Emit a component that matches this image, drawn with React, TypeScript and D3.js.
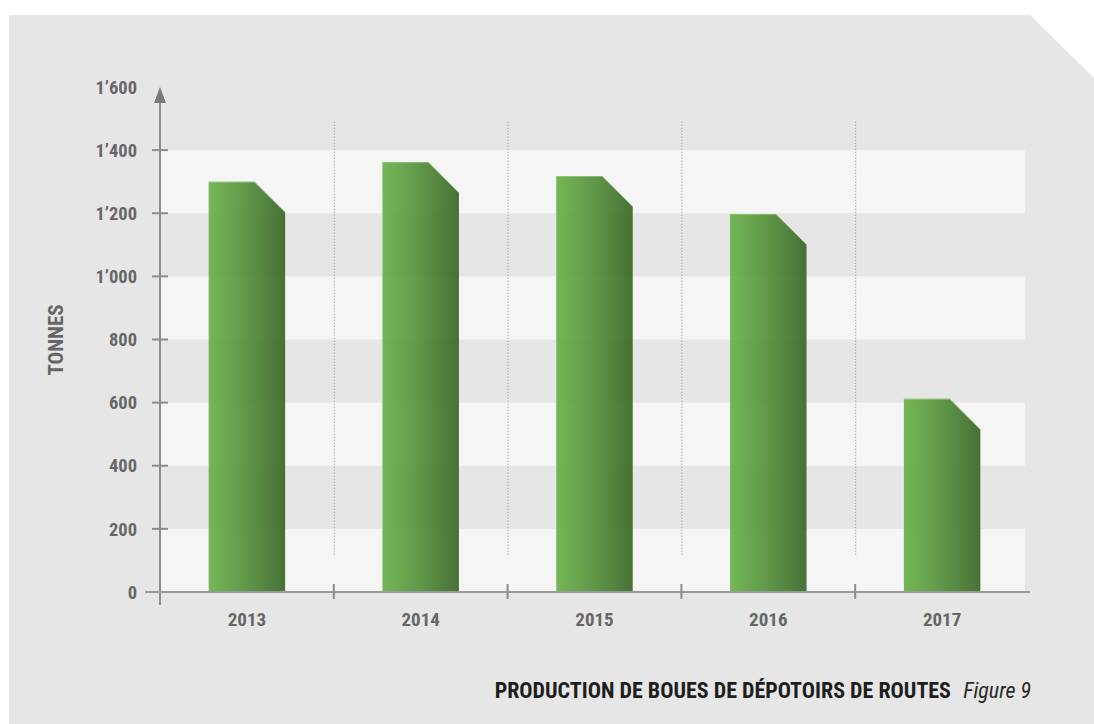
import * as d3 from "d3";

const years = ["2013", "2014", "2015", "2016", "2017"];
const tonnes = [1300, 1362, 1318, 1198, 612];
const yTicks = [0, 200, 400, 600, 800, 1000, 1200, 1400, 1600];
const yTickLabels = ["0", "200", "400", "600", "800", "1’000", "1’200", "1’400", "1’600"];
const yTitle = "TONNES";
const chartTitle = "PRODUCTION DE BOUES DE DÉPOTOIRS DE ROUTES";
const figureLabel = "Figure 9";

const W = 1094;
const H = 724;
const condensed = "'Roboto Condensed', 'Liberation Sans Narrow', 'DejaVu Sans Condensed', Roboto, sans-serif";

export default function App() {
  const margin = { left: 160, right: 1029, top: 87, bottom: 592 };

  const x = d3.scaleBand<string>().domain(years).range([margin.left, margin.right]).padding(0);
  const y = d3.scaleLinear().domain([0, 1600]).range([margin.bottom, margin.top]);

  const barW = x.bandwidth() * 0.44;
  const cut = barW * 0.4;

  // alternating light bands: 0-200, 400-600, 800-1000, 1200-1400
  const bands = yTicks.slice(0, -1).filter((_, i) => i % 2 === 0);

  const separators = years.slice(1).map((yr) => x(yr)!);

  return (
    <svg
      width={W}
      height={H}
      style={{ position: "absolute", left: 0, top: 0, background: "#ffffff" }}
    >
      <defs>
        <linearGradient id="barGrad" x1="0" y1="0" x2="1" y2="0">
          <stop offset="0%" stopColor="#6ab24b" />
          <stop offset="35%" stopColor="#5c9b41" />
          <stop offset="100%" stopColor="#3a6828" />
        </linearGradient>
      </defs>

      {/* panel with clipped top-right corner */}
      <path d={`M9,15 H1030 L1094,78 V${H} H9 Z`} fill="#e6e6e6" />

      {bands.map((v) => (
        <rect
          key={v}
          x={margin.left}
          y={y(v + 200)}
          width={1025 - margin.left}
          height={y(v) - y(v + 200)}
          fill="#f5f5f5"
        />
      ))}

      {/* dotted category separators */}
      {separators.map((sx) => (
        <line
          key={sx}
          x1={sx + 0.5}
          x2={sx + 0.5}
          y1={y(1490)}
          y2={y(118)}
          stroke="#8a8a8a"
          strokeWidth={1}
          strokeDasharray="1,2"
        />
      ))}

      {/* bars */}
      {years.map((yr, i) => {
        const cx = x(yr)! + x.bandwidth() / 2;
        const x0 = cx - barW / 2;
        const x1 = cx + barW / 2;
        const top = y(tonnes[i]);
        const base = y(0);
        const path = `M${x0},${base} V${top} H${x1 - cut} L${x1},${top + cut} V${base} Z`;
        return (
          <g key={yr}>
            <path d={path} fill="url(#barGrad)" opacity={0.93} />
            <path
              d={`M${x0},${top + 0.5} H${x1 - cut} L${x1},${top + cut}`}
              fill="none"
              stroke="#a6d48e"
              strokeWidth={1}
              opacity={0.6}
            />
          </g>
        );
      })}

      {/* y axis */}
      <line x1={margin.left} x2={margin.left} y1={margin.bottom + 13} y2={margin.top + 10} stroke="#8c8c8c" strokeWidth={2} />
      <path
        d={`M${margin.left},${margin.top} L${margin.left - 6},${margin.top + 16} L${margin.left + 6},${margin.top + 16} Z`}
        fill="#7a7a7a"
      />
      {yTicks.slice(1, -1).map((v) => (
        <line key={v} x1={margin.left - 8} x2={margin.left + 8} y1={y(v)} y2={y(v)} stroke="#8c8c8c" strokeWidth={2} />
      ))}

      {/* x axis */}
      <line x1={margin.left - 15} x2={margin.right + 1} y1={margin.bottom} y2={margin.bottom} stroke="#999999" strokeWidth={2} />
      {separators.map((sx) => (
        <line key={sx} x1={sx} x2={sx} y1={margin.bottom - 8} y2={margin.bottom + 7} stroke="#8c8c8c" strokeWidth={2} />
      ))}

      {/* y tick labels */}
      {yTicks.map((v, i) => (
        <text
          key={v}
          x={137}
          y={y(v)}
          dy="0.36em"
          textAnchor="end"
          fontFamily={condensed}
          fontWeight="bold"
          fontSize={18.5}
          fill="#666666"
        >
          {yTickLabels[i]}
        </text>
      ))}

      {/* x labels */}
      {years.map((yr) => (
        <text
          key={yr}
          x={x(yr)! + x.bandwidth() / 2}
          y={626}
          textAnchor="middle"
          fontFamily={condensed}
          fontWeight="bold"
          fontSize={19}
          fill="#666666"
        >
          {yr}
        </text>
      ))}

      <text
        transform="translate(63,340) rotate(-90)"
        textAnchor="middle"
        fontFamily={condensed}
        fontWeight="bold"
        fontSize={21}
        fill="#666666"
      >
        {yTitle}
      </text>

      {/* caption */}
      <text
        x={951}
        y={698}
        textAnchor="end"
        fontFamily={condensed}
        fontWeight="bold"
        fontSize={22}
        fill="#1e1e1e"
      >
        {chartTitle}
      </text>
      <text
        x={1031}
        y={698}
        textAnchor="end"
        fontFamily={condensed}
        fontStyle="italic"
        fontSize={22}
        fill="#2a2a2a"
      >
        {figureLabel}
      </text>
    </svg>
  );
}
